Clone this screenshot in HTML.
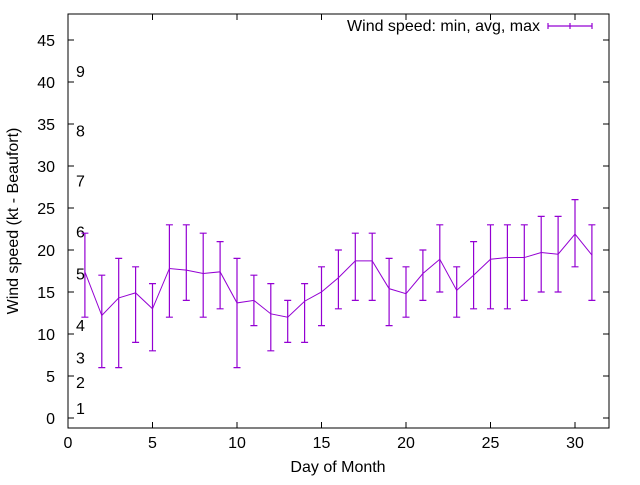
<!DOCTYPE html>
<html><head><meta charset="utf-8"><style>
body{margin:0;background:#fff}
svg{font-family:"Liberation Sans",sans-serif;font-size:16px}
</style></head><body>
<svg id="c" width="640" height="480"></svg>
<script>
const days=[1,2,3,4,5,6,7,8,9,10,11,12,13,14,15,16,17,18,19,20,21,22,23,24,25,26,27,28,29,30,31];
const avgs=[17.4,12.2,14.3,14.9,13.0,17.8,17.6,17.2,17.4,13.7,14.0,12.4,12.0,13.9,15.0,16.7,18.7,18.7,15.4,14.8,17.2,18.9,15.2,17.0,18.9,19.1,19.1,19.7,19.5,21.9,19.4];
const mins=[12,6,6,9,8,12,14,12,13,6,11,8,9,9,11,13,14,14,11,12,14,15,12,13,13,13,14,15,15,18,14];
const maxs=[22,17,19,18,16,23,23,22,21,19,17,16,14,16,18,20,22,22,19,18,20,23,18,21,23,23,23,24,24,26,23];
const xTicks=[0,5,10,15,20,25,30];
const yTicks=[0,5,10,15,20,25,30,35,40,45];
const bft=["1","2","3","4","5","6","7","8","9"];
const bftY=[1.2,4.3,7.2,11.1,17.2,22.2,28.3,34.2,41.3];
const L=68,R=609,T=14,B=428;
const X=v=>68+v*16.9;
const Y=v=>418-v*8.4;
const s=document.getElementById('c');
function el(t,a,txt){const e=document.createElementNS('http://www.w3.org/2000/svg',t);for(const k in a)e.setAttribute(k,a[k]);if(txt!==undefined)e.textContent=txt;s.appendChild(e);return e;}
let e;
e=el('rect',{x:L,y:T,width:R-L,height:B-T,fill:'none',stroke:'#000'});


xTicks.forEach(v=>{
 e=el('path',{d:`M${X(v)},${B}v-6M${X(v)},${T}v6`,stroke:'#000'});
 
 
 e=el('text',{x:X(v),y:B+20,'text-anchor':'middle'},String(v));
 
 
});
yTicks.forEach(v=>{
 e=el('path',{d:`M${L},${Y(v)}h6M${R},${Y(v)}h-6`,stroke:'#000'});
 
 
 e=el('text',{x:55,y:Y(v)+6,'text-anchor':'end'},String(v));
 
 
});
bft.forEach((b,i)=>{
 e=el('text',{x:76,y:Y(bftY[i])+6},b);
 
 
});
e=el('text',{x:338,y:472,'text-anchor':'middle'},'Day of Month');


e=el('text',{x:18,y:221,'text-anchor':'middle',transform:'rotate(-90 18 221)'},'Wind speed (kt - Beaufort)');


const col='#9400d3';
days.forEach((d,i)=>{
 const x=X(d);
 e=el('path',{d:`M${x},${Y(mins[i])}V${Y(maxs[i])}M${x-3.5},${Y(mins[i])}h7M${x-3.5},${Y(maxs[i])}h7`,stroke:col,'stroke-width':1.2,fill:'none'});
 
 
});
e=el('polyline',{points:days.map((d,i)=>X(d)+','+Y(avgs[i])).join(' '),fill:'none',stroke:col,'stroke-width':1});


e=el('text',{x:540,y:31,'text-anchor':'end'},'Wind speed: min, avg, max');


e=el('path',{d:'M548,26h44M548,23v6M592,23v6M570,23v6',stroke:col,'stroke-width':1.2});


</script>
</body></html>
